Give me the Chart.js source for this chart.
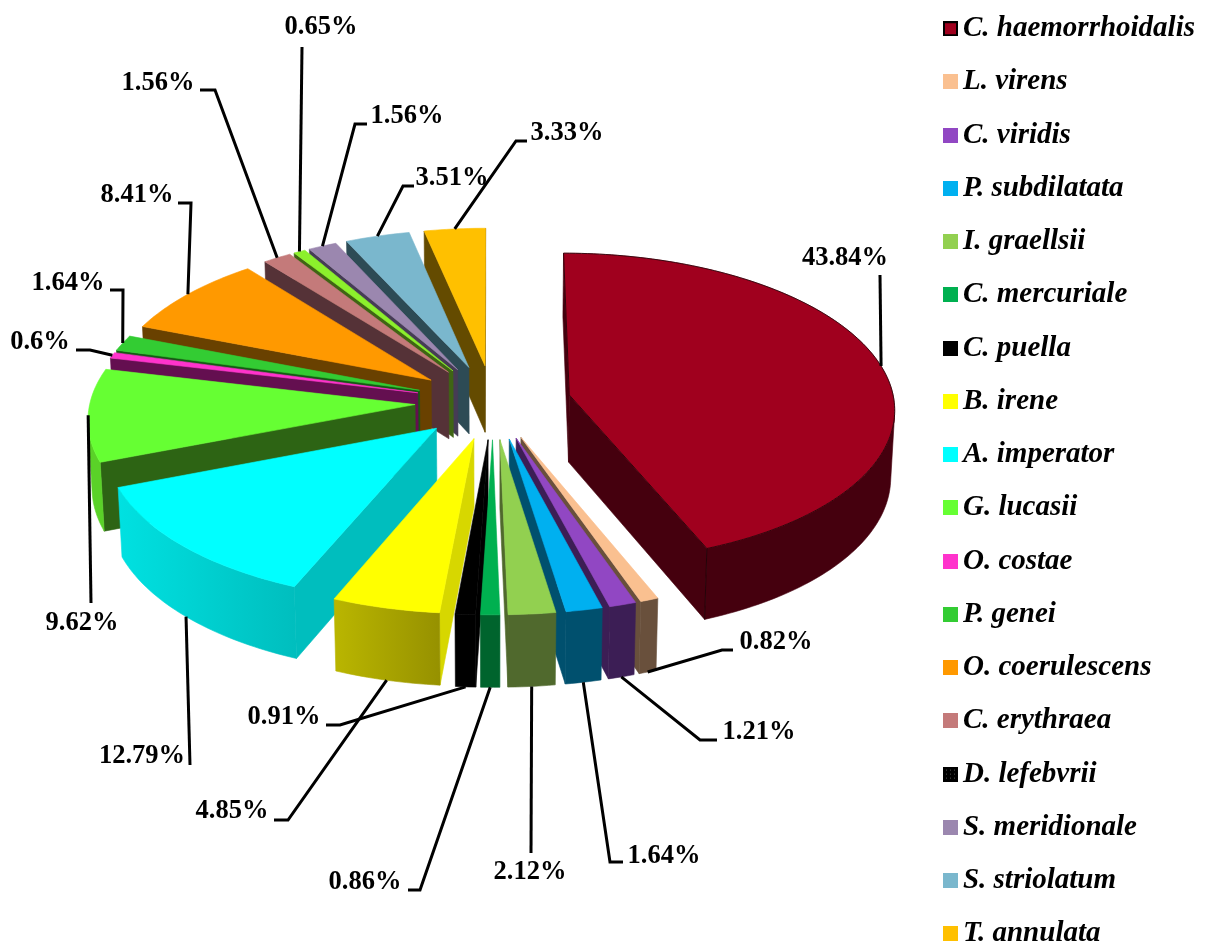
<!DOCTYPE html>
<html>
<head>
<meta charset="utf-8">
<title>Species shares</title>
<script src="https://cdn.jsdelivr.net/npm/chart.js@4"></script>
<style>
  html, body { margin: 0; height: 100%; background: #fff; overflow: hidden; }
  /* taller than the window: the legend's row pitch does not fit in 946px without wrapping */
  #box { position: absolute; left: 0; top: -20px; }
</style>
</head>
<body>
<div id="box"><canvas id="pie" width="1206" height="1000"></canvas></div>
<script>
const species = ["C. haemorrhoidalis", "L. virens", "C. viridis", "P. subdilatata", "I. graellsii", "C. mercuriale", "C. puella", "B. irene", "A. imperator", "G. lucasii", "O. costae", "P. genei", "O. coerulescens", "C. erythraea", "D. lefebvrii", "S. meridionale", "S. striolatum", "T. annulata"];
const shares = [43.84, 0.82, 1.21, 1.64, 2.12, 0.86, 0.91, 4.85, 12.79, 9.62, 0.6, 1.64, 8.41, 1.56, 0.65, 1.56, 3.51, 3.33];

const topColors = ["#a0001e", "#fac090", "#9147c3", "#00b0f0", "#92d050", "#00b050", "#000000", "#ffff00", "#00ffff", "#66ff33", "#ff33cc", "#33cc33", "#ff9900", "#c47a7a", "#8cf02c", "#9b87af", "#7ab7cd", "#ffc000"];
const wallColors = ["#45000e", "#69503c", "#3c1e55", "#00506e", "#50692d", "#00642d", "#000000", "#d7d700", "#00bebe", "#2d6414", "#640f50", "#145a14", "#694100", "#553237", "#3f6414", "#463c55", "#2d4b55", "#644b00"];
const outerLeft = ["#45000e", "#69503c", "#3c1e55", "#00506e", "#50692d", "#00642d", "#000000", "#bab600", "#00e1e1", "#5ad228", "#640f50", "#145a14", "#694100", "#553237", "#3f6414", "#463c55", "#2d4b55", "#644b00"];
const outerRight = ["#45000e", "#69503c", "#3c1e55", "#00506e", "#50692d", "#00642d", "#000000", "#969100", "#00bebe", "#5ad228", "#640f50", "#145a14", "#694100", "#553237", "#3f6414", "#463c55", "#2d4b55", "#644b00"];

// label centres and the elbows of the leader lines, in page pixels
const labelSpots = [[845, 258], [776, 642], [759, 732], [664, 856], [530, 872], [365, 882], [284, 717], [232, 811], [142, 756], [82, 623], [40, 342], [68, 283], [137, 195], [158, 83], [321, 27], [407, 116], [452, 178], [567, 133]];
const leaderBends = [
  [[880, 275]], [[722, 650], [733, 650]], [[700, 740], [717, 740]], [[610, 862], [623, 862]],
  [[531, 853]], [[420, 890], [408, 890]], [[340, 725], [326, 725]], [[288, 820], [274, 820]],
  [[190, 765]], [[91, 603]], [[90, 350], [76, 350]], [[123, 290], [110, 290]],
  [[191, 203], [178, 203]], [[215, 90], [200, 90]], [[302, 47]], [[355, 124], [367, 124]],
  [[403, 186], [414, 186]], [[516, 141], [527, 141]]
];

const PAGE_TOP = 20;
const CX = 493, CY = 402 + PAGE_TOP;
const TILT = 0.475, PERSP = 0.00025, DEPTH = 68, SINK = 0.01;

function project(x, z, low) {
  const s = 1 / (1 - PERSP * z + low * SINK);
  return { x: CX + x * s, y: CY + (TILT * z + low * DEPTH) * s };
}

function polyArea(pts) {
  let sum = 0;
  pts.forEach((p, i) => {
    const q = pts[(i + 1) % pts.length];
    sum += p.x * q.y - q.x * p.y;
  });
  return sum;
}

function fillPoly(ctx, pts, color) {
  ctx.beginPath();
  pts.forEach((p, i) => (i ? ctx.lineTo(p.x, p.y) : ctx.moveTo(p.x, p.y)));
  ctx.closePath();
  ctx.fillStyle = color;
  ctx.strokeStyle = color;
  ctx.lineWidth = 0.6;
  ctx.fill();
  ctx.stroke();
}

// where a slice sits once it is pulled out along its middle angle
function sliceGeometry(arc) {
  const mid = (arc.startAngle + arc.endAngle) / 2;
  const off = arc.options.offset;
  return { mid, ox: Math.cos(mid) * off, oz: Math.sin(mid) * off, r: arc.outerRadius };
}

function drawSlice(ctx, arc, i) {
  const { ox, oz, r } = sliceGeometry(arc);
  const edge = (a, low) => project(ox + Math.cos(a) * r, oz + Math.sin(a) * r, low);
  const apexTop = project(ox, oz, 0), apexLow = project(ox, oz, 1);
  const a0 = arc.startAngle, a1 = arc.endAngle;
  const steps = Math.max(2, Math.ceil((a1 - a0) / 0.02));

  const startWall = [apexTop, edge(a0, 0), edge(a0, 1), apexLow];
  const endWall = [apexTop, edge(a1, 0), edge(a1, 1), apexLow];
  if (polyArea(endWall) > 0) fillPoly(ctx, endWall, wallColors[i]);
  if (polyArea(startWall) < 0) fillPoly(ctx, startWall, wallColors[i]);

  // the part of the rim that faces the viewer, as one shape
  const rimTop = [], rimLow = [];
  for (let k = 0; k < steps; k++) {
    const u = a0 + (a1 - a0) * k / steps, v = a0 + (a1 - a0) * (k + 1) / steps;
    if (polyArea([edge(u, 0), edge(v, 0), edge(v, 1), edge(u, 1)]) < 0) {
      if (!rimTop.length) { rimTop.push(edge(u, 0)); rimLow.push(edge(u, 1)); }
      rimTop.push(edge(v, 0));
      rimLow.push(edge(v, 1));
    }
  }
  if (rimTop.length) {
    const rim = rimTop.concat(rimLow.reverse());
    const xs = rim.map((p) => p.x);
    const shade = ctx.createLinearGradient(Math.min(...xs), 0, Math.max(...xs), 0);
    shade.addColorStop(0, outerLeft[i]);
    shade.addColorStop(1, outerRight[i]);
    fillPoly(ctx, rim, shade);
  }

  const top = [apexTop];
  for (let k = 0; k <= steps; k++) top.push(edge(a0 + (a1 - a0) * k / steps, 0));
  fillPoly(ctx, top, arc.options.backgroundColor);

  // only the big slice has a visible dark outline
  if (i === 0) {
    ctx.strokeStyle = "#1a0005";
    ctx.lineWidth = 0.8;
    ctx.beginPath();
    top.forEach((p, n) => (n ? ctx.lineTo(p.x, p.y) : ctx.moveTo(p.x, p.y)));
    ctx.closePath();
    ctx.stroke();
    ctx.beginPath();
    ctx.moveTo(edge(a1, 0).x, edge(a1, 0).y);
    ctx.lineTo(edge(a1, 1).x, edge(a1, 1).y);
    ctx.stroke();
  }
}

function drawCallout(ctx, arc, i) {
  const { mid, ox, oz, r } = sliceGeometry(arc);
  const low = Math.sin(mid) > 0.3 ? 1 : 0;
  const anchor = project(ox + Math.cos(mid) * r, oz + Math.sin(mid) * r, low);
  ctx.beginPath();
  ctx.moveTo(anchor.x, anchor.y);
  leaderBends[i].forEach((p) => ctx.lineTo(p[0], p[1] + PAGE_TOP));
  ctx.strokeStyle = "#000";
  ctx.lineWidth = 3;
  ctx.stroke();
  ctx.fillStyle = "#000";
  ctx.font = 'bold 26.5px "Liberation Serif"';
  ctx.textAlign = "center";
  ctx.textBaseline = "middle";
  ctx.fillText(shares[i] + "%", labelSpots[i][0], labelSpots[i][1] + PAGE_TOP);
}

const pie3d = {
  id: "pie3d",
  beforeDatasetsDraw(chart) {
    const ctx = chart.ctx;
    const arcs = chart.getDatasetMeta(0).data;
    const order = arcs.map((arc, i) => i).sort((p, q) => Math.sin(sliceGeometry(arcs[p]).mid) - Math.sin(sliceGeometry(arcs[q]).mid));
    ctx.save();
    order.forEach((i) => drawSlice(ctx, arcs[i], i));
    arcs.forEach((arc, i) => drawCallout(ctx, arc, i));
    ctx.restore();
    return false;
  }
};

// legend marker: a 15px square pushed to the right of a transparent tile,
// which brings it as close to the text as the reference has it
function swatch(color, kind) {
  const tile = document.createElement("canvas");
  tile.width = 19;
  tile.height = 15;
  const t = tile.getContext("2d");
  t.fillStyle = color;
  t.fillRect(4, 0, 15, 15);
  if (kind === "framed") {
    t.strokeStyle = "#000";
    t.lineWidth = 2;
    t.strokeRect(5, 1, 13, 13);
  }
  if (kind === "dotted") {
    t.fillStyle = "#555";
    for (let x = 7; x < 19; x += 4) {
      for (let y = 3; y < 15; y += 4) t.fillRect(x, y, 1, 1);
    }
  }
  return tile;
}

new Chart(document.getElementById("pie"), {
  type: "pie",
  plugins: [pie3d],
  data: {
    labels: species,
    datasets: [{ data: shares, backgroundColor: topColors, borderWidth: 0, offset: 78 }]
  },
  options: {
    responsive: false,
    animation: false,
    radius: 325,
    layout: { padding: { top: 10, right: 1 } },
    plugins: {
      tooltip: { enabled: false },
      legend: {
        position: "right",
        align: "start",
        labels: {
          color: "#000",
          font: { family: "Liberation Serif", size: 29, style: "italic", weight: "bold" },
          usePointStyle: true,
          pointStyleWidth: 0.01,
          boxHeight: 15,
          padding: 24.24,
          generateLabels(chart) {
            const items = Chart.overrides.pie.plugins.legend.labels.generateLabels(chart);
            items.forEach((item, i) => {
              const kind = i === 0 ? "framed" : i === 14 ? "dotted" : "";
              item.pointStyle = swatch(i === 14 ? "#000" : topColors[i], kind);
              item.lineWidth = 0;
            });
            return items;
          }
        }
      }
    }
  }
});
</script>
</body>
</html>
